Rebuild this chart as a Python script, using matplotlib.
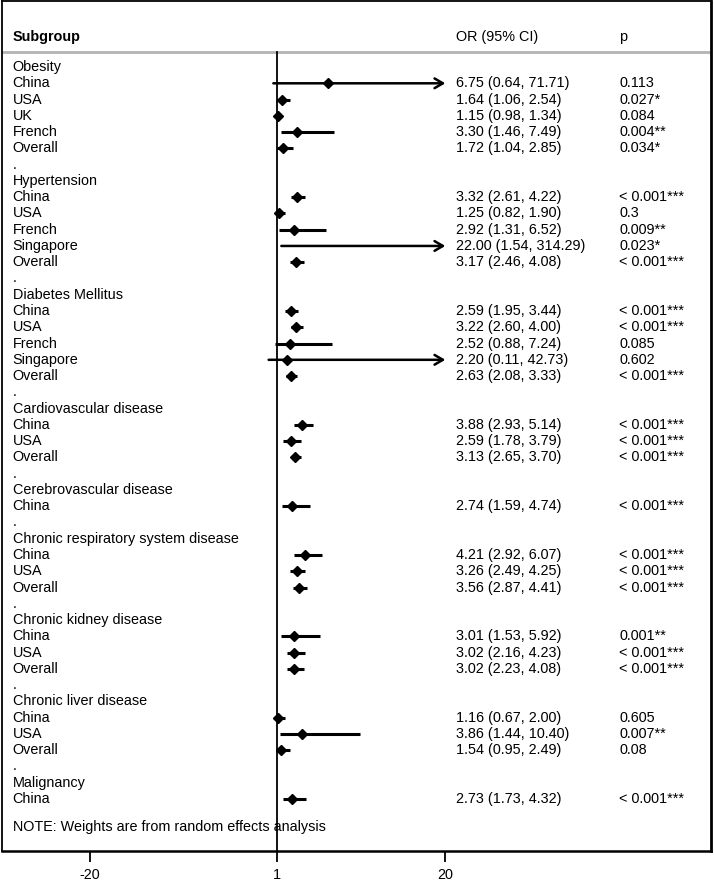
import numpy as np
import matplotlib
matplotlib.use("Agg")
import matplotlib.pyplot as plt

plt.rcParams['font.family'] = ['Liberation Sans', 'DejaVu Sans']

# one entry per study row
row_group = ["Obesity"] * 5 + ["Hypertension"] * 5 + ["Diabetes Mellitus"] * 5 + \
    ["Cardiovascular disease"] * 3 + ["Cerebrovascular disease"] * 1 + \
    ["Chronic respiratory system disease"] * 3 + ["Chronic kidney disease"] * 3 + \
    ["Chronic liver disease"] * 3 + ["Malignancy"] * 1
row_label = ["China", "USA", "UK", "French", "Overall",
             "China", "USA", "French", "Singapore", "Overall",
             "China", "USA", "French", "Singapore", "Overall",
             "China", "USA", "Overall",
             "China",
             "China", "USA", "Overall",
             "China", "USA", "Overall",
             "China", "USA", "Overall",
             "China"]
or_est = [6.75, 1.64, 1.15, 3.30, 1.72,
          3.32, 1.25, 2.92, 22.00, 3.17,
          2.59, 3.22, 2.52, 2.20, 2.63,
          3.88, 2.59, 3.13,
          2.74,
          4.21, 3.26, 3.56,
          3.01, 3.02, 3.02,
          1.16, 3.86, 1.54,
          2.73]
ci_low = [0.64, 1.06, 0.98, 1.46, 1.04,
          2.61, 0.82, 1.31, 1.54, 2.46,
          1.95, 2.60, 0.88, 0.11, 2.08,
          2.93, 1.78, 2.65,
          1.59,
          2.92, 2.49, 2.87,
          1.53, 2.16, 2.23,
          0.67, 1.44, 0.95,
          1.73]
ci_high = [71.71, 2.54, 1.34, 7.49, 2.85,
           4.22, 1.90, 6.52, 314.29, 4.08,
           3.44, 4.00, 7.24, 42.73, 3.33,
           5.14, 3.79, 3.70,
           4.74,
           6.07, 4.25, 4.41,
           5.92, 4.23, 4.08,
           2.00, 10.40, 2.49,
           4.32]
p_text = ["0.113", "0.027*", "0.084", "0.004**", "0.034*",
          "< 0.001***", "0.3", "0.009**", "0.023*", "< 0.001***",
          "< 0.001***", "< 0.001***", "0.085", "0.602", "< 0.001***",
          "< 0.001***", "< 0.001***", "< 0.001***",
          "< 0.001***",
          "< 0.001***", "< 0.001***", "< 0.001***",
          "0.001**", "< 0.001***", "< 0.001***",
          "0.605", "0.007**", "0.08",
          "< 0.001***"]
x_ticks = [-20, 1, 20]
x_max_shown = 20

fig = plt.figure(figsize=(7.14, 8.81), dpi=100)
ax = fig.add_axes([2 / 714, 30 / 881, 709 / 714, 850 / 881])
ax.set_xlim(-29.9, 49.9)
ax.set_ylim(48.2, -4.06)

fs = 10.4
label_x = -28.7
or_x = 21.2
p_x = 39.6

# header
ax.text(label_x, -1.84, "Subgroup", fontsize=fs, fontweight='bold', va='center')
ax.text(or_x, -1.84, "OR (95% CI)", fontsize=fs, va='center')
ax.text(p_x, -1.84, "p", fontsize=fs, va='center')
ax.axhline(-0.92, color='#b3b3b3', lw=2)

y = 0
prev = None
for i in range(len(row_label)):
    g = row_group[i]
    if g != prev:
        if prev is not None:
            ax.text(label_x, y, ".", fontsize=fs, va='center')
            y += 1
        ax.text(label_x, y, g, fontsize=fs, va='center')
        y += 1
        prev = g
    ax.text(label_x, y, row_label[i], fontsize=fs, va='center')
    ax.text(or_x, y, "%.2f (%.2f, %.2f)" % (or_est[i], ci_low[i], ci_high[i]),
            fontsize=fs, va='center')
    ax.text(p_x, y, p_text[i], fontsize=fs, va='center')
    if ci_high[i] > x_max_shown:
        ax.annotate("", xy=(x_max_shown, y), xytext=(ci_low[i], y),
                    arrowprops=dict(arrowstyle='->, head_length=0.6, head_width=0.35',
                                    lw=1.8, color='black', shrinkA=0, shrinkB=0),
                    fontsize=10)
    else:
        ax.plot([ci_low[i], ci_high[i]], [y, y], color='black', lw=2.2,
                solid_capstyle='butt')
    if or_est[i] <= x_max_shown:
        ax.plot(or_est[i], y, 'kD', ms=5.2)
    y += 1

ax.text(label_x, 46.7, "NOTE: Weights are from random effects analysis",
        fontsize=fs, va='center')

# null line
ax.plot([1, 1], [-0.92, 48.2], color='black', lw=1.3)

ax.set_xticks(x_ticks)
ax.set_xticklabels([str(t) for t in x_ticks], fontsize=fs)
ax.tick_params(axis='x', direction='out', length=8, width=1.3, pad=4)
ax.set_yticks([])
for s in ax.spines.values():
    s.set_linewidth(1.3)
    s.set_color('black')
ax.spines['right'].set_linewidth(2)
ax.spines['bottom'].set_linewidth(1.8)

fig.savefig("out.png", dpi=100)
